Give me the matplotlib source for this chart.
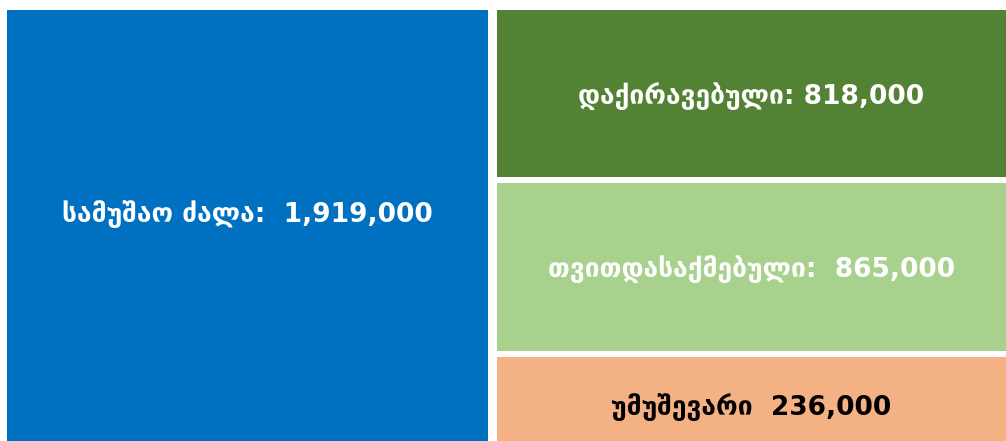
import matplotlib
matplotlib.use("Agg")
import matplotlib.pyplot as plt
from matplotlib.patches import Rectangle

labels = ["სამუშაო ძალა:", "დაქირავებული:", "თვითდასაქმებული:", "უმუშევარი"]
values = [1919000, 818000, 865000, 236000]
colors = ["#0070C0", "#548235", "#A9D18E", "#F4B183"]
text_colors = ["white", "white", "white", "black"]
gaps = ["  ", " ", "  ", "  "]

# box layout in pixels: x0, y0, x1, y1 (y from top)
boxes = [(7, 10, 488, 441), (497, 10, 1006, 177), (497, 183, 1006, 351), (497, 357, 1006, 441)]
label_y = [214, 97, 269, 407]

fig = plt.figure(figsize=(10.06, 4.41), dpi=100)
ax = fig.add_axes([0, 0, 1, 1])
ax.set_xlim(0, 1006)
ax.set_ylim(441, 0)
ax.axis("off")

for i in range(len(labels)):
    x0, y0, x1, y1 = boxes[i]
    ax.add_patch(Rectangle((x0, y0), x1 - x0, y1 - y0, color=colors[i], lw=0))
    txt = labels[i] + gaps[i] + f"{values[i]:,}"
    ax.text((x0 + x1) / 2, label_y[i], txt, color=text_colors[i],
            fontsize=19, fontweight="bold", ha="center", va="center",
            family=["DejaVu Sans"])

fig.savefig("out.png", dpi=100)
